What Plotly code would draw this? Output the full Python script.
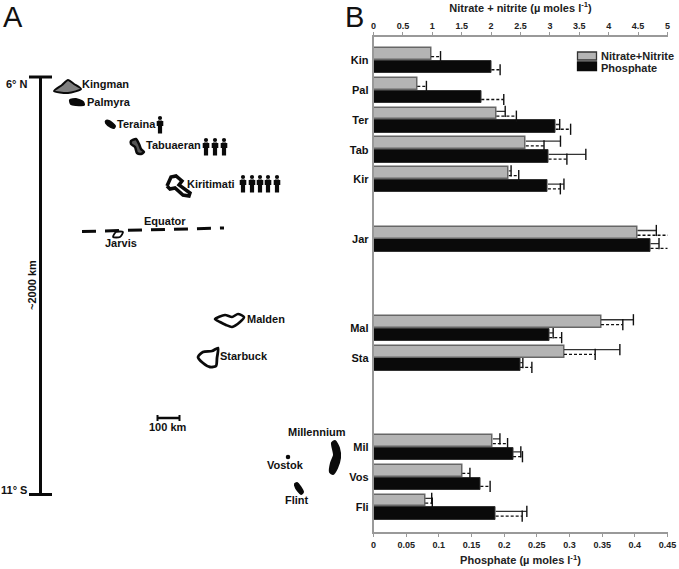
import plotly.graph_objects as go

W, H = 679, 569
FONT = "Liberation Sans"

# ---------- Panel B data ----------
categories = ["Kin", "Pal", "Ter", "Tab", "Kir", None, "Jar", None, None, "Mal", "Sta", None, None, "Mil", "Vos", "Fli"]
nitrate =        [0.98, 0.745, 2.09, 2.59, 2.30, None, 4.49, None, None, 3.87, 3.24, None, None, 2.03, 1.51, 0.88]
nitrate_solid =  [None, None, 2.24, 3.18, 2.34, None, 4.81, None, None, 4.42, 4.19, None, None, 2.15, None, 0.99]
nitrate_dashed = [1.14, 0.90, 2.43, 2.90, 2.47, None, 5.02, None, None, 4.24, 3.77, None, None, 2.28, 1.64, 1.00]
phosphate =        [0.1805, 0.165, 0.279, 0.268, 0.267, None, 0.424, None, None, 0.269, 0.2245, None, None, 0.2137, 0.1636, 0.187]
phosphate_solid =  [None, None, 0.285, 0.325, 0.2915, None, 0.437, None, None, 0.275, 0.2286, None, None, 0.2255, None, 0.2347]
phosphate_dashed = [0.1938, 0.1994, 0.3017, 0.296, 0.286, None, 0.4515, None, None, 0.288, 0.2424, None, None, 0.228, 0.1785, 0.2276]
top_ticks = [0, 0.5, 1, 1.5, 2, 2.5, 3, 3.5, 4, 4.5, 5]
bottom_ticks = [0, 0.05, 0.1, 0.15, 0.2, 0.25, 0.3, 0.35, 0.4, 0.45]

# ---------- Panel A data (schematic map, picture pixels) ----------
kingman = [(54, 91), (62, 85), (68, 80), (74, 84), (81, 89), (68, 93), (54, 91)]
palmyra = [(70, 100), (76, 99), (83, 102), (84, 105), (76, 105), (71, 104), (70, 100)]
teraina = [(106, 121), (109, 121), (115, 126), (114, 128), (111, 127), (106, 123), (106, 121)]
tabuaeran = [(131, 141), (136, 139), (139, 144), (141, 149), (144, 152), (141, 154), (137, 153), (135, 147), (131, 144), (131, 141)]
kiritimati = [(167, 186), (171, 177), (176, 176), (182, 181), (179, 185), (190, 193), (189, 196), (183, 195), (175, 188), (170, 189), (167, 186)]
jarvis = [(113, 237), (116, 232), (123, 232), (120, 237), (113, 237)]
malden = [(215, 319), (225, 315), (232, 317), (238, 314), (244, 317), (240, 322), (232, 327), (226, 325), (220, 322), (215, 319)]
starbuck = [(198, 357), (203, 352), (212, 351), (218, 348), (217, 358), (216, 366), (210, 367), (203, 363), (198, 357)]
millennium = [(332, 443), (335, 441), (339, 448), (340, 458), (337, 468), (333, 474), (330, 472), (331, 463), (334, 455), (332, 443)]
flint = [(295, 484), (297, 483), (303, 492), (301, 494), (296, 488), (295, 484)]
equator_x = [82, 224]
equator_y = [231.5, 228]
map_labels = [
    ("Kingman", 105, 84), ("Palmyra", 109, 102), ("Teraina", 136.5, 124),
    ("Tabuaeran", 173.5, 145), ("Kiritimati", 211, 184), ("Equator", 164.5, 221),
    ("Jarvis", 121, 243), ("Malden", 266, 319), ("Starbuck", 243.5, 356),
    ("100 km", 168, 427), ("Millennium", 316.5, 432), ("Vostok", 285.5, 465),
    ("Flint", 297, 500), ("6° N", 17, 84), ("11° S", 14, 490),
]
people_x = [160, 206, 215, 224, 243, 252, 260, 268, 277]
people_y = [116, 138, 138, 138, 175, 175, 175, 175, 175]
legend_names = ["Nitrate+Nitrite", "Phosphate"]

idx = list(range(len(categories)))
present = [i for i in idx if categories[i] is not None]
BAR_OFF = 0.22
fig = go.Figure()


def island(points, fill, lw=2.0, line="#0a0a0a", smooth=True):
    fig.add_trace(go.Scatter(
        x=[p[0] for p in points], y=[p[1] for p in points], xaxis="x3", yaxis="y3",
        mode="lines", fill="toself", fillcolor=fill, showlegend=False, hoverinfo="skip",
        line=dict(color=line, width=lw, shape="spline" if smooth else "linear", smoothing=0.7)))


def seg(xs, ys, lw, dash="solid"):
    fig.add_trace(go.Scatter(x=xs, y=ys, xaxis="x3", yaxis="y3", mode="lines", showlegend=False,
                             hoverinfo="skip", line=dict(color="#0a0a0a", width=lw, dash=dash)))


# Map scale bars and equator
seg([40.5, 40.5], [77, 495], 3)
seg([29, 52], [77, 77], 3)
seg([29, 52], [494.5, 494.5], 3)
seg(equator_x, equator_y, 3, "14px,9px")
seg([157, 180], [418, 418], 2.5)
seg([157.5, 157.5], [415, 421], 2)
seg([179.5, 179.5], [415, 421], 2)

island(kingman, "#808080")
island(palmyra, "#0a0a0a")
island(teraina, "#0a0a0a")
island(tabuaeran, "#555555", 2.5)
island(kiritimati, "#ffffff", 3.5, smooth=False)
island(jarvis, "#ffffff", 1.8)
island(malden, "#ffffff", 2.6)
island(starbuck, "#ffffff", 2.8)
island(millennium, "#0a0a0a")
island(flint, "#0a0a0a")
fig.add_trace(go.Scatter(x=[288], y=[457], xaxis="x3", yaxis="y3", mode="markers", showlegend=False,
                         hoverinfo="skip", marker=dict(color="#0a0a0a", size=4.5)))

# People icons: head, shoulders and legs
fig.add_trace(go.Scatter(x=people_x, y=[y + 2 for y in people_y], xaxis="x3", yaxis="y3", mode="markers",
                         showlegend=False, hoverinfo="skip", marker=dict(color="#0a0a0a", size=4.2)))
for px, py in zip(people_x, people_y):
    seg([px - 2.6, px - 2.6], [py + 5, py + 10], 1.4)
    seg([px + 2.6, px + 2.6], [py + 5, py + 10], 1.4)
    seg([px, px], [py + 4.5, py + 17.5], 4.2)

# ---------- Panel B bars ----------
fig.add_trace(go.Bar(
    name=legend_names[0], orientation="h", x=[nitrate[i] for i in present], showlegend=False,
    y=[i - BAR_OFF for i in present], width=0.40, xaxis="x2", yaxis="y",
    marker=dict(color="#b4b4b4", line=dict(color="#666666", width=1.5))))
fig.add_trace(go.Bar(
    name=legend_names[1], orientation="h", x=[phosphate[i] for i in present], showlegend=False,
    y=[i + BAR_OFF for i in present], width=0.42, xaxis="x", yaxis="y",
    marker=dict(color="#0a0a0a", line=dict(color="#333333", width=1))))


def whisker(base, ends, off, xaxis, dash, color):
    xs, ys, cx, cy = [], [], [], []
    for i in present:
        if ends[i] is None:
            continue
        xs += [base[i], ends[i], None]
        ys += [i + off, i + off, None]
        cx.append(ends[i])
        cy.append(i + off)
    fig.add_trace(go.Scatter(x=xs, y=ys, xaxis=xaxis, yaxis="y", mode="lines", showlegend=False,
                             cliponaxis=False, line=dict(color=color, width=1.3, dash=dash)))
    fig.add_trace(go.Scatter(x=cx, y=cy, xaxis=xaxis, yaxis="y", mode="markers", showlegend=False,
                             cliponaxis=False,
                             marker=dict(symbol="line-ns", size=8, line=dict(color="#111111", width=1.4))))


whisker(nitrate, nitrate_solid, -BAR_OFF - 0.07, "x2", "solid", "#333333")
whisker(nitrate, nitrate_dashed, -BAR_OFF + 0.09, "x2", "3px,2px", "#111111")
whisker(phosphate, phosphate_solid, BAR_OFF - 0.07, "x", "solid", "#333333")
whisker(phosphate, phosphate_dashed, BAR_OFF + 0.09, "x", "3px,2px", "#111111")

# ---------- Text ----------
annotations = []
for text, x, y in map_labels:
    annotations.append(dict(text=text, x=x, y=y, xref="x3", yref="y3", showarrow=False,
                            font=dict(family=FONT, size=11, weight=700, color="#111111")))
annotations.append(dict(text="~2000 km", x=32, y=285, xref="x3", yref="y3", showarrow=False, textangle=-90,
                        font=dict(family=FONT, size=11, weight=700, color="#111111")))
annotations.append(dict(text="A", x=13, y=17, xref="x3", yref="y3", showarrow=False,
                        font=dict(family=FONT, size=29, color="#111111")))
annotations.append(dict(text="B", x=354.5, y=17, xref="x3", yref="y3", showarrow=False,
                        font=dict(family=FONT, size=29, color="#111111")))
# Key, drawn to the wide swatches of the reference
for name, ty in zip(legend_names, [55.5, 67.5]):
    annotations.append(dict(text=name, x=599, y=ty, xref="x3", yref="y3", xanchor="left", showarrow=False,
                            font=dict(family=FONT, size=11, weight=700, color="#222222")))
shapes = [
    dict(type="rect", xref="x3", yref="y3", x0=577.5, x1=596.5, y0=52, y1=60,
         fillcolor="#b4b4b4", line=dict(color="#333333", width=1.3)),
    dict(type="rect", xref="x3", yref="y3", x0=577.5, x1=596.5, y0=62, y1=70.5,
         fillcolor="#0a0a0a", line=dict(color="#0a0a0a", width=1.3)),
]

axis_line = dict(showgrid=False, zeroline=False, showline=True, linecolor="#999999", linewidth=1.5,
                 ticks="outside", ticklen=3, tickcolor="#999999", tickwidth=1, automargin=False,
                 tickfont=dict(family=FONT, size=9, weight=700, color="#222222"))
title_font = dict(family=FONT, size=11, weight=700, color="#222222")
x0, x1 = 373.5 / W, 667.5 / W
y0, y1 = 1 - 532 / H, 1 - 37 / H

fig.update_layout(
    width=W, height=H, margin=dict(l=0, r=0, t=0, b=0), paper_bgcolor="white", plot_bgcolor="rgba(0,0,0,0)",
    barmode="overlay", bargap=0, font=dict(family=FONT), annotations=annotations, shapes=shapes, showlegend=False,
    xaxis=dict(domain=[x0, x1], range=[0, 0.45], anchor="y", side="bottom", tickmode="array",
               tickvals=bottom_ticks, ticktext=[f"{t:g}" for t in bottom_ticks],
               title=dict(text="Phosphate (µ moles l<sup>-1</sup>)", font=title_font, standoff=8), **axis_line),
    xaxis2=dict(domain=[x0, x1], range=[0, 5], anchor="y", side="top", overlaying="x", tickmode="array",
                tickvals=top_ticks, ticktext=[f"{t:g}" for t in top_ticks],
                title=dict(text="Nitrate + nitrite (µ moles l<sup>-1</sup>)", font=title_font, standoff=6), **axis_line),
    yaxis=dict(domain=[y0, y1], range=[15.84, -0.79], anchor="x", showgrid=False, zeroline=False, showline=True,
               linecolor="#999999", linewidth=1.5, ticks="", tickmode="array", tickvals=present, automargin=False,
               ticktext=[categories[i] for i in present], ticklabelstandoff=1,
               tickfont=dict(family=FONT, size=11, weight=700, color="#111111")),
    xaxis3=dict(domain=[0, 1], range=[0, W], anchor="y3", visible=False, fixedrange=True),
    yaxis3=dict(domain=[0, 1], range=[H, 0], anchor="x3", visible=False, fixedrange=True),
)

fig.write_html("out.html", config=dict(displayModeBar=False),
               post_script="document.body.style.margin='0';document.body.style.overflow='hidden';")
